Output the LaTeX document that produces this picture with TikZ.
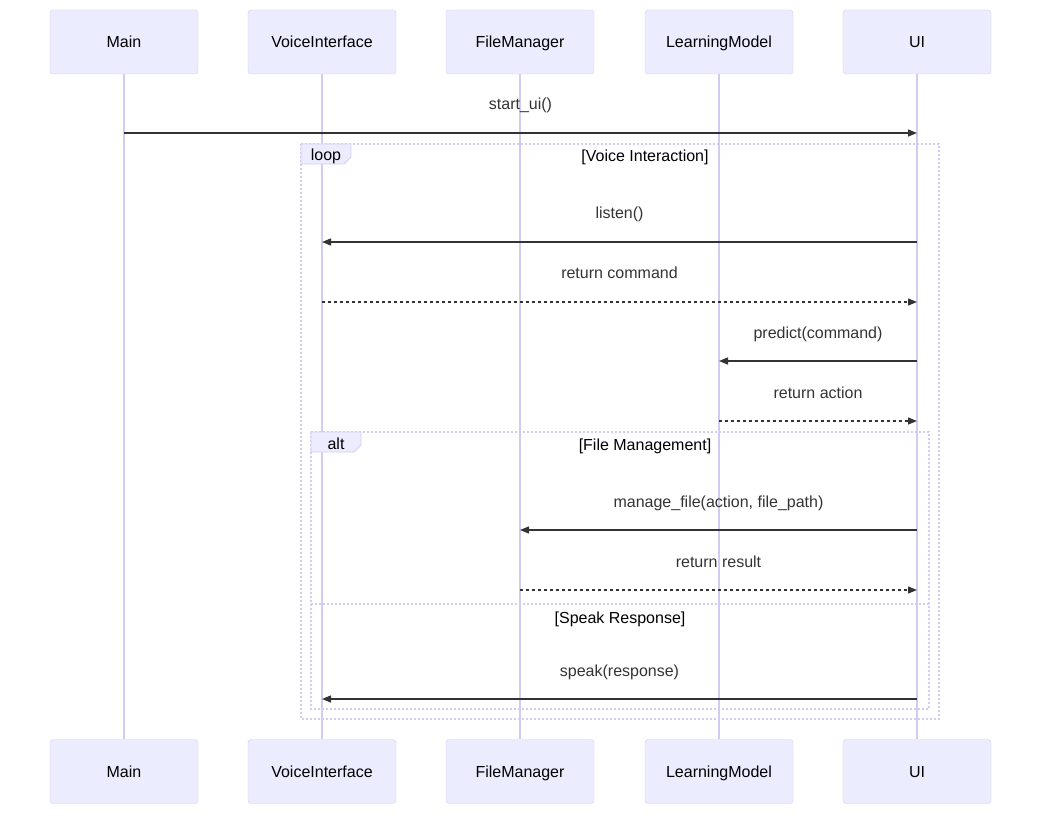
\documentclass[tikz,border=0pt]{standalone}
\usepackage{fontspec}
\setmainfont{Liberation Sans}
\usepackage{xcolor}
\usetikzlibrary{arrows.meta}

\definecolor{actorfill}{HTML}{ECECFF}
\definecolor{actorline}{HTML}{D4CBF2}
\definecolor{msgcol}{HTML}{333333}

\begin{document}
\begin{tikzpicture}
        [x=1pt,y=-1pt,
         actor/.style={rectangle,rounded corners=3pt,draw=actorline,fill=actorfill,
                       minimum width=148pt,minimum height=64pt,inner sep=0pt,
                       text height=13.5pt,text depth=1.5pt,
                       font=\fontsize{16}{19}\selectfont},
         lifeline/.style={draw=actorline,line width=2pt},
         msg/.style={draw=msgcol,line width=1.3pt,-{Triangle[length=9pt,width=7pt]}},
         reply/.style={msg,dash pattern=on 3pt off 3pt},
         msgtext/.style={text=msgcol,font=\fontsize{16}{19}\selectfont,
                         text height=13.5pt,text depth=1.5pt,yshift=29pt},
         framebox/.style={draw=actorline,line width=2pt,dash pattern=on 2pt off 2pt},
         tabbox/.style={draw=actorline,fill=actorfill,line width=0.8pt},
         guard/.style={text=black,font=\fontsize{16}{19}\selectfont,
                       text height=13.5pt,text depth=1.5pt}]
        \useasboundingbox (0,0) rectangle (1050,821);

        % participants and lifelines
        \foreach \n/\x/\t in {main/124/Main, voice/322/VoiceInterface, file/520/FileManager,
                              model/719/LearningModel, ui/917/UI} {
            \node [actor,name=\n-t] at (\x,42) {\t};
            \node [actor,name=\n-b] at (\x,771.5) {\t};
            \draw [lifeline] (\n-t) -- (\n-b);
        }

        % loop frame
        \draw [framebox] (301,144) rectangle (939,719);
        \filldraw [tabbox] (301,144) -- (351,144) -- (351,157) -- (344,164) -- (301,164) -- cycle;
        \node [guard,name=loop] at (326,155) {loop};
        \node [guard,name=voiceint] at (645,156) {[Voice Interaction]};

        % alt frame
        \draw [framebox] (311,432) rectangle (929,709);
        \draw [framebox] (311,604) -- (929,604);
        \filldraw [tabbox] (311,432) -- (361,432) -- (361,445) -- (354,452) -- (311,452) -- cycle;
        \node [guard,name=alt] at (336,443) {alt};
        \node [guard,name=filemgmt] at (645,444) {[File Management]};
        \node [guard,name=speakresp] at (620,617) {[Speak Response]};

        % messages
        \path (main-t |- 0,133) edge [msg] node[msgtext] {start\_ui()} (ui-t |- 0,133)
              (ui-t |- 0,242) edge [msg] node[msgtext] {listen()} (voice-t |- 0,242)
              (voice-t |- 0,302) edge [reply] node[msgtext] {return command} (ui-t |- 0,302)
              (ui-t |- 0,361) edge [msg] node[msgtext] {predict(command)} (model-t |- 0,361)
              (model-t |- 0,421) edge [reply] node[msgtext] {return action} (ui-t |- 0,421)
              (ui-t |- 0,530) edge [msg] node[msgtext] {manage\_file(action, file\_path)} (file-t |- 0,530)
              (file-t |- 0,590) edge [reply] node[msgtext] {return result} (ui-t |- 0,590)
              (ui-t |- 0,699) edge [msg] node[msgtext] {speak(response)} (voice-t |- 0,699);
    \end{tikzpicture}
\end{document}
